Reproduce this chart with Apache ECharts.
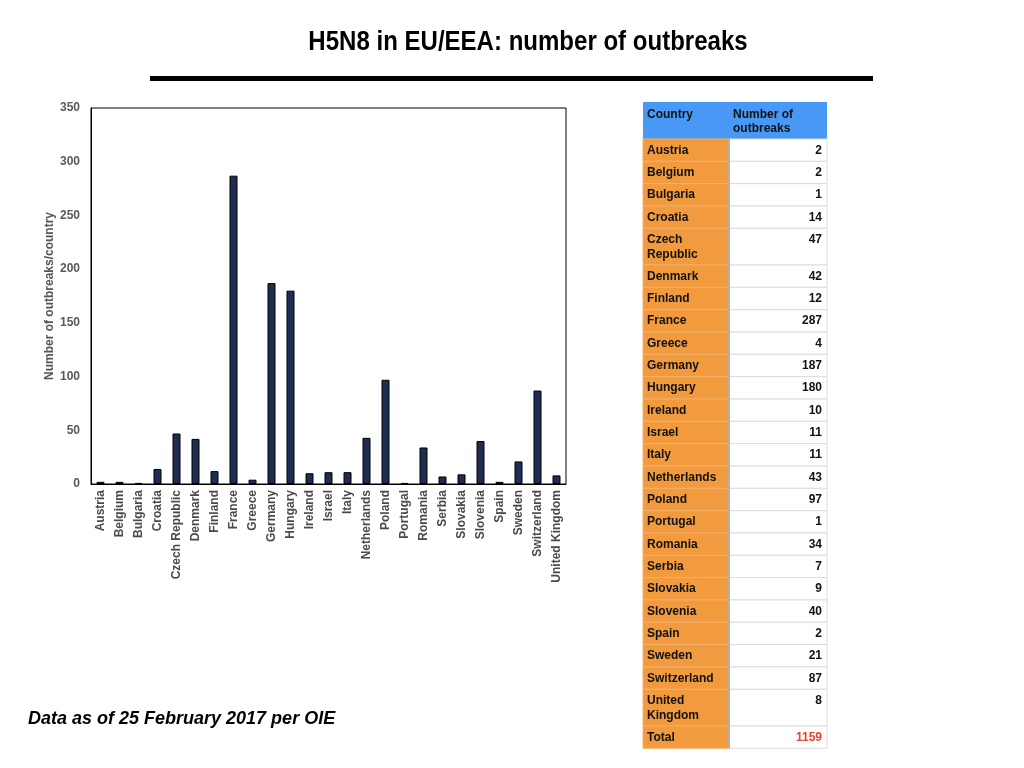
<!DOCTYPE html>
<html>
<head>
<meta charset="utf-8">
<title>H5N8 in EU/EEA: number of outbreaks</title>
<script src="https://cdn.jsdelivr.net/npm/echarts@6/dist/echarts.min.js"></script>
<style>
  html, body { margin: 0; padding: 0; background: #fff; }
  #main { width: 1024px; height: 768px; }
</style>
</head>
<body>
<div id="main"></div>
<script>
// 数据：国家和疫情数量
var countries = ['Austria', 'Belgium', 'Bulgaria', 'Croatia', 'Czech Republic', 'Denmark', 'Finland', 'France',
  'Greece', 'Germany', 'Hungary', 'Ireland', 'Israel', 'Italy', 'Netherlands', 'Poland', 'Portugal', 'Romania',
  'Serbia', 'Slovakia', 'Slovenia', 'Spain', 'Sweden', 'Switzerland', 'United Kingdom']
var outbreaks = [2, 2, 1, 14, 47, 42, 12, 287, 4, 187, 180, 10, 11, 11, 43, 97, 1, 34, 7, 9, 40, 2, 21, 87, 8]
var tableHeader = ['Country', 'Number of\noutbreaks']
var totalLabel = 'Total'

var chart = echarts.init(document.getElementById('main'))
var baseFont = '"Liberation Sans", Arial, sans-serif'

// 右边的表格用 graphic 画
var buildTable = function () {
  var left = 643, split = 729, right = 827
  var top = 102, headerH = 37, rowH = 22.33, rowH2 = 36.7
  var font = 'bold 12px ' + baseFont
  var els = []
  els.push({ type: 'rect', shape: { x: left, y: top, width: right - left, height: headerH }, style: { fill: '#4799f5' } })
  els.push({ type: 'text', style: { text: tableHeader[0], x: left + 4, y: top + 5, font: font, fill: '#111', lineHeight: 14.5, textVerticalAlign: 'top' } })
  els.push({ type: 'text', style: { text: tableHeader[1], x: split + 4, y: top + 5, font: font, fill: '#111', lineHeight: 14.5, textVerticalAlign: 'top' } })

  var total = 0
  var rows = countries.map(function (name, i) {
    total += outbreaks[i]
    var label = name.length > 12 ? name.replace(' ', '\n') : name
    return { label: label, value: outbreaks[i] }
  })
  rows.push({ label: totalLabel, value: total, isTotal: true })

  var y = top + headerH
  rows.forEach(function (row) {
    var h = row.label.indexOf('\n') >= 0 ? rowH2 : rowH
    els.push({ type: 'rect', shape: { x: left, y: y, width: split - left, height: h }, style: { fill: '#f19a3e', stroke: '#f4b06a', lineWidth: 1 } })
    els.push({ type: 'rect', shape: { x: split, y: y, width: right - split, height: h }, style: { fill: '#fff', stroke: '#dcdcdc', lineWidth: 1 } })
    els.push({ type: 'text', style: { text: row.label, x: left + 4, y: y + 4, font: font, fill: '#111', lineHeight: 15, textVerticalAlign: 'top' } })
    els.push({ type: 'text', style: { text: String(row.value), x: right - 5, y: y + 4, font: font, fill: row.isTotal ? '#e2442f' : '#111', lineHeight: 15, textAlign: 'right', textVerticalAlign: 'top' } })
    y += h
  })
  els.push({ type: 'line', shape: { x1: split, y1: top + headerH, x2: split, y2: y }, style: { stroke: '#b9aea3', lineWidth: 2 } })
  return els
}

var graphics = [
  {
    type: 'text',
    x: 528, y: 43, scaleX: 0.89,
    style: {
      text: 'H5N8 in EU/EEA: number of outbreaks',
      x: 0, y: 0, textAlign: 'center', textVerticalAlign: 'middle',
      font: 'bold 27px ' + baseFont, fill: '#000'
    }
  },
  { type: 'rect', shape: { x: 150, y: 76, width: 723, height: 5 }, style: { fill: '#000' } },
  {
    type: 'text',
    style: {
      text: 'Data as of 25 February 2017 per OIE',
      x: 28, y: 719, textVerticalAlign: 'middle',
      font: 'italic bold 18px ' + baseFont, fill: '#000'
    }
  }
].concat(buildTable())

chart.setOption({
  animation: false,
  backgroundColor: '#fff',
  grid: { left: 91, top: 108, right: 458, bottom: 284, show: true, borderColor: '#000', borderWidth: 1 },
  xAxis: {
    type: 'category',
    data: countries,
    axisLine: { lineStyle: { color: '#000', width: 1 } },
    axisTick: { show: false },
    axisLabel: {
      interval: 0, rotate: 90, margin: 6,
      color: '#4a4a4a', fontWeight: 'bold', fontSize: 12, fontFamily: baseFont
    }
  },
  yAxis: {
    type: 'value',
    min: 0, max: 350, interval: 50,
    name: 'Number of outbreaks/country',
    nameLocation: 'middle',
    nameGap: 35,
    nameTextStyle: { color: '#555', fontWeight: 'bold', fontSize: 12, fontFamily: baseFont },
    axisLine: { show: true, lineStyle: { color: '#000', width: 1 } },
    axisTick: { show: false },
    splitLine: { show: false },
    axisLabel: {
      margin: 11,
      color: '#5a5a5a', fontWeight: 'bold', fontSize: 12, fontFamily: baseFont
    }
  },
  series: [
    {
      type: 'bar',
      data: outbreaks,
      barWidth: 8,
      itemStyle: { color: '#1f2d52', borderColor: '#000', borderWidth: 1 }
    }
  ],
  graphic: graphics
})
</script>
</body>
</html>
